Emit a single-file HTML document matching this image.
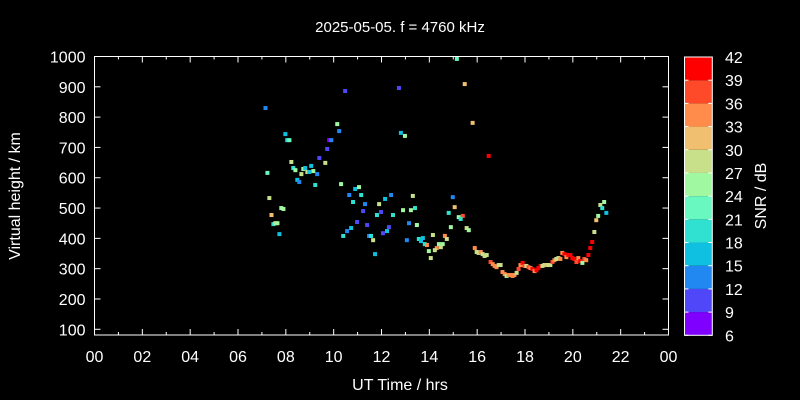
<!DOCTYPE html>
<html><head><meta charset="utf-8"><style>
html,body{margin:0;padding:0;background:#000;}
svg{display:block;font-family:"Liberation Sans",sans-serif;}
</style></head><body>
<svg id="chart" width="800" height="400" viewBox="0 0 800 400" xmlns="http://www.w3.org/2000/svg">
<rect width="800" height="400" fill="#000"/>
<text x="400" y="32" fill="#fff" font-size="15" text-anchor="middle">2025-05-05. f = 4760 kHz</text>
<text x="400" y="390" fill="#fff" font-size="16" text-anchor="middle">UT Time / hrs</text>
<text x="0" y="0" transform="translate(20,196) rotate(-90)" fill="#fff" font-size="16" text-anchor="middle">Virtual height / km</text>
<text x="0" y="0" transform="translate(766,196) rotate(-90)" fill="#fff" font-size="16" text-anchor="middle">SNR / dB</text>
<g id="marks"></g>
<g id="axes"></g>
<g id="cbar"></g>
</svg>
<script>
const hours=[7.15,10.48,12.73,15.48,15.15,15.81,16.48,10.15,10.23,7.98,8.06,8.15,9.81,9.9,12.81,12.98,9.73,9.4,8.23,9.65,8.31,8.4,8.73,8.81,9.06,8.9,8.98,9.15,8.65,9.31,7.23,8.48,8.56,9.23,10.31,10.9,11.06,10.65,11.15,12.4,12.15,13.31,14.98,10.81,11.31,11.9,7.31,15.06,7.81,7.9,7.4,11.23,11.98,12.9,13.23,13.4,11.81,12.48,14.81,15.23,15.4,15.31,7.48,7.56,7.65,10.98,11.4,12.31,13.15,13.48,14.9,15.56,15.65,10.56,10.73,12.23,12.06,7.73,10.4,11.48,11.56,14.15,14.65,13.06,11.65,13.56,13.73,14.73,13.65,13.81,13.9,14.4,14.56,14.48,14.31,13.98,14.23,11.73,14.06,15.9,15.98,16.06,16.15,16.23,16.31,16.4,16.56,16.65,16.73,16.81,16.9,16.98,17.06,17.15,17.23,17.31,17.4,17.48,17.56,17.65,17.73,17.81,17.9,17.98,18.06,18.15,18.23,18.31,18.4,18.48,18.56,18.65,18.73,18.81,18.9,18.98,19.06,19.15,19.23,19.31,19.4,19.48,19.56,19.65,19.73,19.81,19.9,19.98,20.06,20.15,20.23,20.31,20.4,20.48,20.56,20.65,20.73,20.81,20.9,20.98,21.06,21.15,21.23,21.31,21.4];
const heights=[830,886,896,909,992,781,672,777,754,744,724,724,724,724,748,738,695,665,652,649,632,625,629,632,639,619,619,622,612,612,616,593,586,576,579,563,569,543,543,543,530,540,536,520,513,513,533,503,500,497,477,490,487,493,493,500,477,477,484,470,474,464,447,450,450,454,444,437,450,444,437,434,427,424,434,424,417,414,408,408,408,411,408,394,394,398,401,398,391,381,378,381,381,371,368,358,361,348,335,368,355,352,355,348,342,345,322,315,309,305,312,312,289,282,276,279,279,276,279,286,299,312,319,309,309,305,302,299,292,295,302,309,309,312,312,312,312,322,328,332,335,332,352,348,338,345,345,335,332,322,335,325,319,332,328,345,368,388,421,460,474,510,500,520,484];
const snr=[13,9,9,32,22,32,40,25,13,16,20,22,8,13,16,25,9,9,28,28,20,25,25,16,16,28,16,25,28,13,22,16,13,20,25,16,25,13,20,13,16,28,13,20,13,28,28,32,25,25,32,9,9,25,25,20,20,20,20,25,38,20,20,28,25,9,9,9,13,25,25,28,25,13,16,16,9,16,20,13,20,28,34,13,28,20,16,28,16,20,34,25,25,28,34,25,28,16,28,34,28,28,34,28,28,28,37,34,34,34,28,28,34,34,25,34,34,34,34,28,37,34,40,37,28,37,34,40,34,40,40,40,28,28,31,28,28,37,34,28,28,34,34,40,34,40,40,40,40,37,34,40,25,37,34,40,40,40,28,32,25,28,20,25,16];
const snrTicks=[6,9,12,15,18,21,24,27,30,33,36,39,42];
const bandColors=["#8000ff","#5048f8","#2088f0","#10c0e0","#30e0d0","#68f8c0","#a0f8a0","#c8e08a","#f0c070","#ff8c4a","#ff4a2a","#ff0000"];
const xTicks=["00","02","04","06","08","10","12","14","16","18","20","22","00"];
const yTicks=[100,200,300,400,500,600,700,800,900,1000];

const NS="http://www.w3.org/2000/svg";
const L=94.5,R=668.5,T=56.5,B=335;
const xS=h=>L+(h/24)*(R-L);
const yS=k=>T+(1000-k)*0.3031;
const cT=57,cB=335.3,cL=684.5,cR=712.3;
const cY=v=>cB-(v-6)/36*(cB-cT);
function col(v){let i=Math.floor((v-6)/3);i=Math.max(0,Math.min(11,i));return bandColors[i];}
function mk(tag,attrs,parent){const e=document.createElementNS(NS,tag);for(const k in attrs)e.setAttribute(k,attrs[k]);parent.appendChild(e);return e;}

const marks=document.getElementById('marks');
for(let i=0;i<hours.length;i++){
  const r=mk('rect',{x:xS(hours[i])-2,y:yS(heights[i])-2,width:4,height:4,fill:col(snr[i])},marks);
  
  
}

const ax=document.getElementById('axes');
const frame=mk('rect',{x:L,y:T,width:R-L,height:B-T,fill:'none',stroke:'#fff','stroke-width':1},ax);


for(let h=0;h<=24;h++){
  const len=h%2===0?6:3;const x=xS(h);
  mk('line',{x1:x,y1:B,x2:x,y2:B-len,stroke:'#fff'},ax);
  mk('line',{x1:x,y1:T,x2:x,y2:T+len,stroke:'#fff'},ax);
}
xTicks.forEach((t,i)=>{
  const e=mk('text',{x:xS(i*2),y:B+27,fill:'#fff','font-size':16,'text-anchor':'middle'},ax);
  e.textContent=t;
  
  
});
yTicks.forEach(v=>{
  const y=yS(v);
  mk('line',{x1:L,y1:y,x2:L+6,y2:y,stroke:'#fff'},ax);
  mk('line',{x1:R,y1:y,x2:R-6,y2:y,stroke:'#fff'},ax);
  const e=mk('text',{x:L-9,y:y+6,fill:'#fff','font-size':16,'text-anchor':'end'},ax);
  e.textContent=v;
  
  
});

const cb=document.getElementById('cbar');
bandColors.forEach((c,i)=>{
  const v0=snrTicks[i],v1=snrTicks[i+1];
  const r=mk('rect',{x:cL,y:cY(v1),width:cR-cL,height:cY(v0)-cY(v1),fill:c},cb);
  
  
});
mk('rect',{x:cL,y:cT,width:cR-cL,height:cB-cT,fill:'none',stroke:'#fff'},cb);
snrTicks.forEach(v=>{
  const y=cY(v);
  mk('line',{x1:cL,y1:y,x2:cL+4,y2:y,stroke:'#fff'},cb);
  mk('line',{x1:cR,y1:y,x2:cR-4,y2:y,stroke:'#fff'},cb);
  const e=mk('text',{x:725,y:y+6,fill:'#fff','font-size':16},cb);
  e.textContent=v;
  
  
});
</script>
</body></html>
